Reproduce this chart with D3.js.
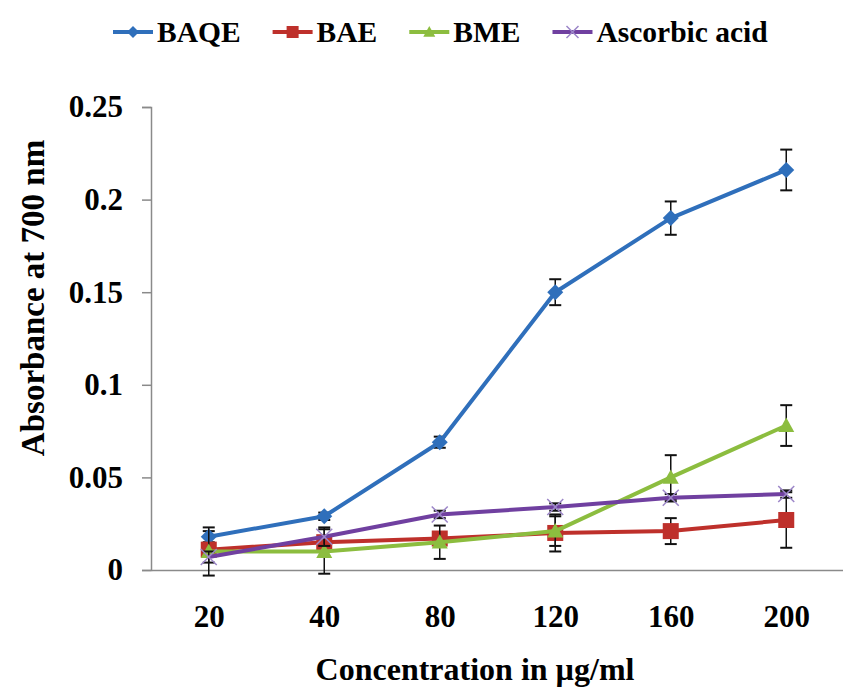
<!DOCTYPE html>
<html>
<head>
<meta charset="utf-8">
<script src="https://cdn.jsdelivr.net/npm/d3@7"></script>
<style>
  body { margin: 0; background: #fff; }
  text { font-family: 'Times New Roman', 'Liberation Serif', serif; font-weight: bold; fill: #000; }
</style>
</head>
<body>
<svg id="chart" width="843" height="689"></svg>
<script>
// Data
const concentrations = ['20', '40', '80', '120', '160', '200'];
const seriesNames = ['BAQE', 'BAE', 'BME', 'Ascorbic acid'];
const baqe = [0.018, 0.029, 0.069, 0.150, 0.190, 0.216];
const baqeErr = [0.003, 0.002, 0.003, 0.007, 0.009, 0.011];
const bae = [0.011, 0.015, 0.017, 0.020, 0.021, 0.027];
const baeErr = [0.003, 0.003, 0.003, 0.010, 0.007, 0.015];
const bme = [0.010, 0.010, 0.015, 0.021, 0.050, 0.078];
const bmeErr = [0.013, 0.012, 0.009, 0.008, 0.012, 0.011];
const ascorbic = [0.007, 0.018, 0.030, 0.034, 0.039, 0.041];
const ascorbicErr = [0.003, 0.005, 0.002, 0.002, 0.002, 0.002];
const yTicks = [0, 0.05, 0.1, 0.15, 0.2, 0.25];

const colors = ['#2f6fbb', '#be302b', '#8cbd3f', '#7040a0'];
const markers = ['diamond', 'square', 'triangle', 'cross'];

const series = seriesNames.map((name, i) => ({
  name,
  color: colors[i],
  marker: markers[i],
  values: [baqe, bae, bme, ascorbic][i],
  errs: [baqeErr, baeErr, bmeErr, ascorbicErr][i]
}));

const svg = d3.select('#chart');
const margin = { left: 151, right: 0, top: 107, bottom: 119 };
const width = 843, height = 689;

const x = d3.scalePoint().domain(concentrations).range([margin.left, width + 1]).padding(0.5);
const y = d3.scaleLinear().domain([0, 0.25]).range([height - margin.bottom, margin.top]);

// Axes
const yAxis = svg.append('g')
  .attr('transform', `translate(${margin.left},0)`)
  .call(d3.axisLeft(y).tickValues(yTicks).tickSize(9).tickPadding(19)
    .tickFormat(d => d === 0 ? '0' : String(+d.toFixed(2))));
yAxis.select('.domain').attr('stroke', '#8a8a8a').attr('stroke-width', 1.5);
yAxis.selectAll('.tick line').attr('stroke', '#8a8a8a').attr('stroke-width', 1.5);
yAxis.selectAll('.tick text').attr('font-size', 31).attr('font-family', null);

const xAxis = svg.append('g')
  .attr('transform', `translate(0,${y(0)})`)
  .call(d3.axisBottom(x).tickSize(0).tickPadding(35));
xAxis.select('.domain').attr('stroke', '#8a8a8a').attr('stroke-width', 1.5);
xAxis.selectAll('.tick text').attr('font-size', 31).attr('font-family', null);

// Axis titles
svg.append('text')
  .attr('x', 475).attr('y', 680)
  .attr('text-anchor', 'middle')
  .attr('font-size', 32)
  .text('Concentration in \u00b5g/ml');

svg.append('text')
  .attr('transform', `translate(44,298) rotate(-90)`)
  .attr('text-anchor', 'middle')
  .attr('font-size', 33)
  .text('Absorbance at 700 nm');

// Marker drawing
function drawMarker(g, type, color, size) {
  const h = size / 2;
  if (type === 'diamond') {
    g.append('path').attr('d', `M0,${-h}L${h},0L0,${h}L${-h},0Z`).attr('fill', color);
  } else if (type === 'square') {
    g.append('rect').attr('x', -h).attr('y', -h)
      .attr('width', size).attr('height', size).attr('fill', color);
  } else if (type === 'triangle') {
    g.append('path').attr('d', `M0,${-h}L${h},${h * 0.8}L${-h},${h * 0.8}Z`).attr('fill', color);
  } else {
    g.append('path').attr('d', `M${-h},${-h}L${h},${h}M${-h},${h}L${h},${-h}`)
      .attr('stroke', '#9c86c8').attr('stroke-width', 1.5).attr('fill', 'none');
  }
}

const line = d3.line().x((d, i) => x(concentrations[i])).y(d => y(d));

series.forEach(s => {
  const g = svg.append('g');
  // error bars
  const eb = g.selectAll('.err').data(s.values).enter().append('g')
    .attr('transform', (d, i) => `translate(${x(concentrations[i])},0)`);
  eb.append('line')
    .attr('y1', (d, i) => y(d - s.errs[i])).attr('y2', (d, i) => y(d + s.errs[i]))
    .attr('stroke', '#111').attr('stroke-width', 1.5);
  eb.append('line').attr('x1', -6).attr('x2', 6)
    .attr('y1', (d, i) => y(d - s.errs[i])).attr('y2', (d, i) => y(d - s.errs[i]))
    .attr('stroke', '#111').attr('stroke-width', 2);
  eb.append('line').attr('x1', -6).attr('x2', 6)
    .attr('y1', (d, i) => y(d + s.errs[i])).attr('y2', (d, i) => y(d + s.errs[i]))
    .attr('stroke', '#111').attr('stroke-width', 2);
  // line
  g.append('path').datum(s.values).attr('d', line)
    .attr('fill', 'none').attr('stroke', s.color).attr('stroke-width', 4)
    .attr('stroke-linejoin', 'round');
  // markers
  s.values.forEach((v, i) => {
    const m = g.append('g').attr('transform', `translate(${x(concentrations[i])},${y(v)})`);
    drawMarker(m, s.marker, s.color, 16);
  });
});

// Legend
const legend = svg.append('g').attr('transform', 'translate(113,32)');
let lx = 0;
series.forEach(s => {
  const item = legend.append('g').attr('transform', `translate(${lx},0)`);
  item.append('line').attr('x1', 0).attr('x2', 40).attr('y1', 0).attr('y2', 0)
    .attr('stroke', s.color).attr('stroke-width', 4);
  const m = item.append('g').attr('transform', 'translate(20,0)');
  drawMarker(m, s.marker, s.color, 12);
  const t = item.append('text').attr('x', 44).attr('y', 10)
    .attr('font-size', 29.5).text(s.name);
  lx += 44 + t.node().getComputedTextLength() + 32;
});
</script>
</body>
</html>
